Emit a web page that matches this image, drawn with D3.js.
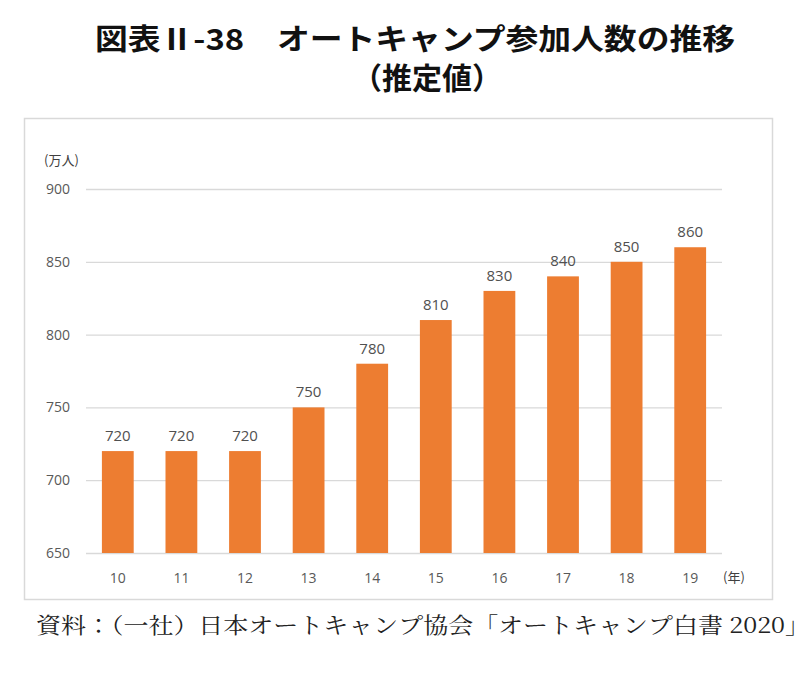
<!DOCTYPE html>
<html><head><meta charset="utf-8">
<script src="https://cdn.jsdelivr.net/npm/d3@7"></script>
<style>body{margin:0;background:#fff;}svg{display:block;}</style>
</head><body>
<script>
const years = ["10","11","12","13","14","15","16","17","18","19"];
const values = [720,720,720,750,780,810,830,840,850,860];
const yTicks = [650,700,750,800,850,900];
const titleLine1 = "図表Ⅱ-38　オートキャンプ参加人数の推移";
const titleLine2 = "（推定値）";
const unitLabel = "(万人)";
const xUnitLabel = "(年)";
const sourceText = "資料：（一社）日本オートキャンプ協会「オートキャンプ白書 2020」";

const W = 800, H = 678;
const svg = d3.select("body").append("svg").attr("width", W).attr("height", H);
const cjk = "'Noto Sans CJK JP','Noto Sans',sans-serif";

svg.append("text").attr("x", 415).attr("y", 50).attr("text-anchor","middle")
  .attr("font-family", cjk).attr("font-weight", 700).attr("font-size", 29)
  .attr("textLength", 640).attr("lengthAdjust","spacingAndGlyphs")
  .attr("fill","#111").text(titleLine1);
svg.append("text").attr("x", 427).attr("y", 89).attr("text-anchor","middle")
  .attr("font-family", cjk).attr("font-weight", 700).attr("font-size", 30)
  .attr("fill","#111").text(titleLine2);

svg.append("rect").attr("x", 24.5).attr("y", 118.5).attr("width", 748).attr("height", 481)
  .attr("fill","none").attr("stroke","#d9d9d9").attr("stroke-width",1.5);

const x = d3.scaleBand().domain(years).range([86, 722]).paddingInner(0.5).paddingOuter(0.25);
const y = d3.scaleLinear().domain([650, 900]).range([553, 189]);

const g = svg.append("g");
const yAxis = d3.axisLeft(y).tickValues(yTicks).tickSize(-(722-86)).tickPadding(16);
const ya = g.append("g").attr("transform","translate(86,0)").call(yAxis);
ya.select(".domain").remove();
ya.selectAll(".tick line").attr("stroke","#d9d9d9").attr("stroke-width",1.3);
ya.selectAll(".tick text").attr("fill","#595959").attr("font-size",14)
  .attr("font-family","'Open Sans','Noto Sans',sans-serif");

g.selectAll("rect.bar").data(values).join("rect").attr("class","bar")
  .attr("x",(d,i)=>x(years[i])).attr("width",x.bandwidth())
  .attr("y",d=>y(d)).attr("height",d=>y(650)-y(d)).attr("fill","#ED7D31");

g.selectAll("text.val").data(values).join("text").attr("class","val")
  .attr("x",(d,i)=>x(years[i])+x.bandwidth()/2).attr("y",d=>y(d)-10)
  .attr("text-anchor","middle").attr("fill","#505050").attr("font-size",15)
  .attr("font-family","'Open Sans','Noto Sans',sans-serif").text(d=>d);

const xAxis = d3.axisBottom(x).tickSize(0).tickPadding(20);
const xa = g.append("g").attr("transform","translate(0,553)").call(xAxis);
xa.select(".domain").remove();
xa.selectAll(".tick text").attr("fill","#595959").attr("font-size",14)
  .attr("font-family","'Open Sans','Noto Sans',sans-serif");

svg.append("text").attr("x", 44).attr("y", 165).attr("font-family", cjk)
  .attr("font-size", 13).attr("fill","#404040").text(unitLabel);
svg.append("text").attr("x", 723).attr("y", 582).attr("font-family", cjk)
  .attr("font-size", 13).attr("fill","#404040").text(xUnitLabel);

svg.append("text").attr("x", 36).attr("y", 633)
  .attr("font-family","'Noto Serif CJK JP','Noto Sans CJK JP',serif")
  .attr("font-size", 22).attr("fill","#222")
  .attr("textLength", 774).attr("lengthAdjust","spacingAndGlyphs").text(sourceText);
</script>
</body></html>
